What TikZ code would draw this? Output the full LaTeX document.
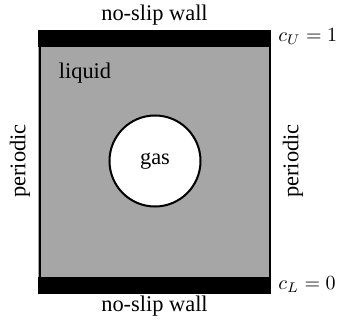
\documentclass[tikz,border=0pt]{standalone}
\usepackage{amsmath}
\usepackage{fontspec}
\setmainfont{Liberation Serif}
\usetikzlibrary{positioning}

\begin{document}
\begin{tikzpicture}[x=0.5pt,y=-0.5pt,font=\fontsize{11.2pt}{13.5pt}\selectfont,
    wall/.style={fill=black,inner sep=0,minimum width=116.5pt,minimum height=8.5pt},
    bubble/.style={circle,draw,fill=white,line width=1pt,inner sep=0,minimum size=45.5pt},
    conc/.style={anchor=west,inner sep=0,font=\fontsize{10.2pt}{12pt}\selectfont}]
  \useasboundingbox (0,0) rectangle (338,321);
  \fill[black!35](38,47)rectangle(270,277);
  \draw[line width=1pt](39.5,47)--(39.5,277);
  \draw[line width=1pt](269.5,47)--(269.5,277);
  \node[wall](topwall) at (154.5,38.5){};
  \node[wall](botwall) at (154.5,285){};
  \node[bubble](gas) at (155,161){gas};
  \node(liquid) at (85,73.5){liquid};
  \node[anchor=base](toplabel) at (154.5,20.5){no-slip wall};
  \node[anchor=base](botlabel) at (154.5,311.5){no-slip wall};
  \node[rotate=90](leftlabel) at (20,161){periodic};
  \node[rotate=90](rightlabel) at (293,161){periodic};
  \node[conc](cU) at (278,37){$c_U=1$};
  \node[conc](cL) at (278,285){$c_L=0$};
\end{tikzpicture}
\end{document}
